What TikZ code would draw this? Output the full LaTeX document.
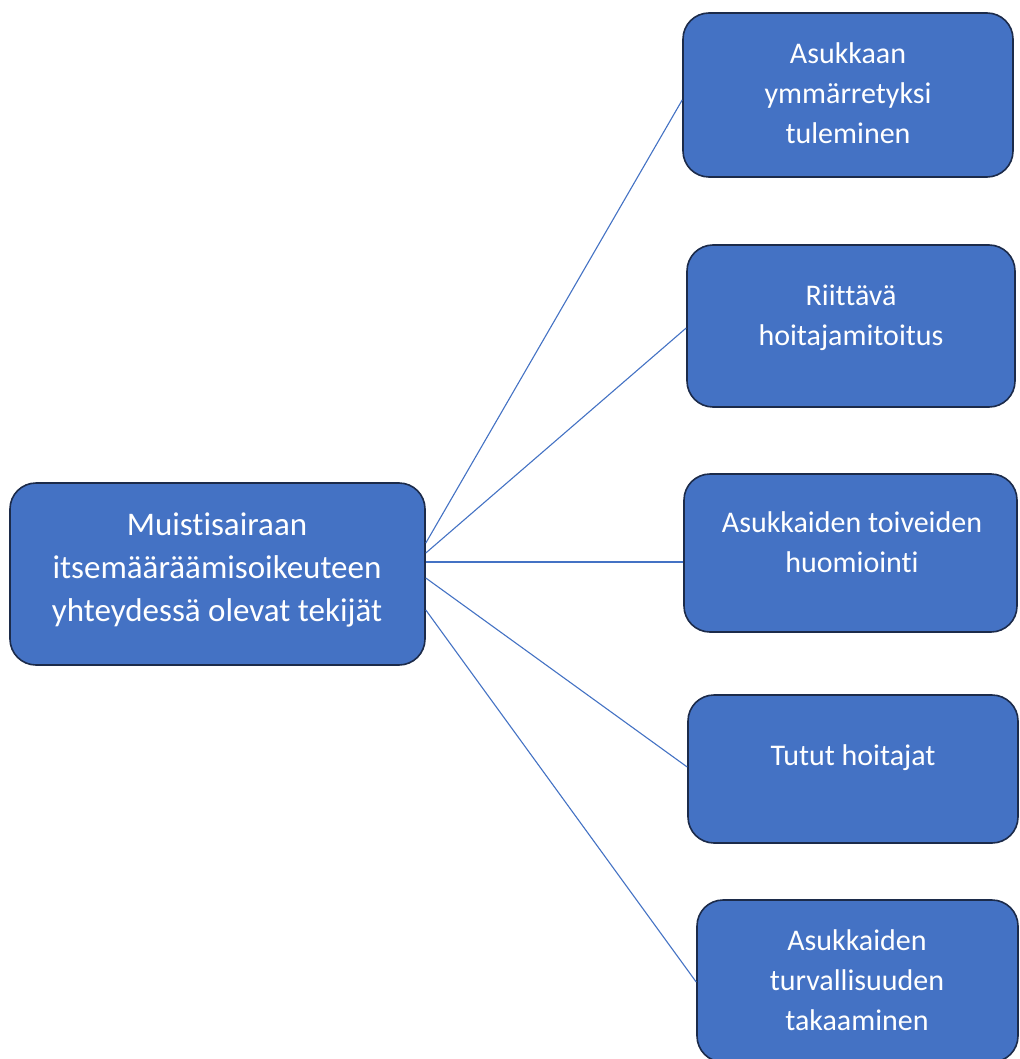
\documentclass[tikz,border=0pt]{standalone}
\usepackage{fontspec}
\setmainfont{Carlito}[Ligatures=CommonOff]
\definecolor{boxblue}{HTML}{4472C4}
\definecolor{boxedge}{HTML}{1C2B4A}
\definecolor{linkblue}{HTML}{4472C4}
\begin{document}
\begin{tikzpicture}[x=1pt,y=-1pt,
  box/.style={draw=boxedge, line width=1.6pt, fill=boxblue, rounded corners=26pt, inner sep=0pt},
  bigtxt/.style={text=white, align=center, font=\fontsize{33}{43}\selectfont},
  smalltxt/.style={text=white, align=center, font=\fontsize{30}{40}\selectfont},
  link/.style={draw=linkblue, line width=1.1pt}]
\useasboundingbox[fill=white] (0,0) rectangle (1019,1059);
\begin{scope}
\clip (0,0) rectangle (1019,1059);
\node[box, minimum width=415pt, minimum height=182pt] (main) at (217.5,574) {};
\node[box, minimum width=330pt, minimum height=164pt] (b1) at (848,95) {};
\node[box, minimum width=328pt, minimum height=162pt] (b2) at (851,326) {};
\node[box, minimum width=333pt, minimum height=158pt] (b3) at (850.5,553) {};
\node[box, minimum width=330pt, minimum height=148pt] (b4) at (853,769) {};
\node[box, minimum width=321pt, minimum height=162pt] (b5) at (857.5,981) {};
\end{scope}
\node[bigtxt] (tmain) at (217,570) {Muistisairaan\\itsemääräämisoikeuteen\\yhteydessä olevat tekijät};
\node[smalltxt] (t1) at (848,93) {Asukkaan\\ymmärretyksi\\tuleminen};
\node[smalltxt] (t2) at (851,318) {Riittävä\\hoitajamitoitus};
\node[smalltxt] (t3) at (852,542) {Asukkaiden toiveiden\\huomiointi};
\node[smalltxt] (t4) at (853,758) {Tutut hoitajat};
\node[smalltxt] (t5) at (857,980) {Asukkaiden\\turvallisuuden\\takaaminen};
\draw[link] ([yshift=31pt]main.east) -- ([yshift=-5pt]b1.west);
\draw[link] ([yshift=21pt]main.east) -- ([yshift=-2pt]b2.west);
\draw[link] ([yshift=12pt]main.east) -- ([yshift=-9pt]b3.west);
\draw[link] ([yshift=-4pt]main.east) -- ([yshift=2pt]b4.west);
\draw[link] ([yshift=-36pt]main.east) -- ([yshift=-1pt]b5.west);
\end{tikzpicture}
\end{document}
